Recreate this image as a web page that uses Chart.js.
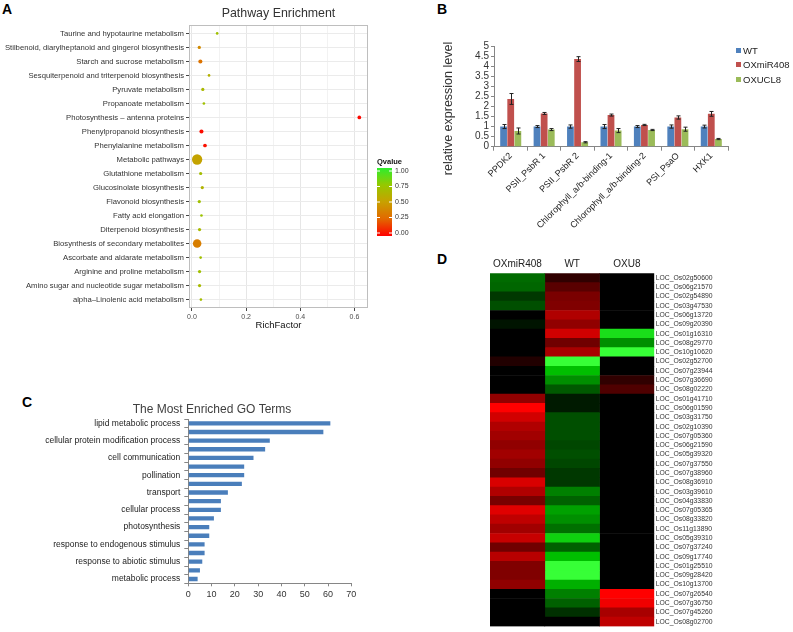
<!DOCTYPE html>
<html><head><meta charset="utf-8">
<script src="https://cdn.jsdelivr.net/npm/chart.js@4.4.1/dist/chart.umd.min.js"></script>
<style>
body{margin:0;background:#fff;width:793px;height:632px;position:relative;overflow:hidden;font-family:"Liberation Sans",Arial,sans-serif;}
canvas{position:absolute;}
.lbl{position:absolute;font:bold 14px "Liberation Sans",Arial,sans-serif;line-height:14px;color:#000;}
#legB{position:absolute;left:736px;top:43.5px;}
#legB .li{height:14.5px;line-height:13px;font-size:9.5px;color:#222;white-space:nowrap;}
#legB .li span{display:inline-block;width:5px;height:5px;margin-right:2px;vertical-align:1px;}
</style></head><body>
<div class="lbl" style="left:2px;top:1.5px">A</div>
<div class="lbl" style="left:437px;top:1.5px">B</div>
<div class="lbl" style="left:22px;top:395px">C</div>
<div class="lbl" style="left:437px;top:252px">D</div>
<canvas id="cA" width="420" height="340" style="left:0;top:0"></canvas>
<canvas id="cB" width="353" height="250" style="left:440px;top:0"></canvas>
<div id="legB"></div>
<canvas id="cC" width="424" height="242" style="left:0;top:390px"></canvas>
<canvas id="cD" width="363" height="377" style="left:430px;top:255px"></canvas>
<script>
// ---------- Panel A data ----------
const pathways = ['Taurine and hypotaurine metabolism','Stilbenoid, diarylheptanoid and gingerol biosynthesis','Starch and sucrose metabolism','Sesquiterpenoid and triterpenoid biosynthesis','Pyruvate metabolism','Propanoate metabolism','Photosynthesis \u2013 antenna proteins','Phenylpropanoid biosynthesis','Phenylalanine metabolism','Metabolic pathways','Glutathione metabolism','Glucosinolate biosynthesis','Flavonoid biosynthesis','Fatty acid elongation','Diterpenoid biosynthesis','Biosynthesis of secondary metabolites','Ascorbate and aldarate metabolism','Arginine and proline metabolism','Amino sugar and nucleotide sugar metabolism','alpha\u2013Linolenic acid metabolism'];
const richFactor = [0.093,0.027,0.031,0.063,0.040,0.044,0.618,0.035,0.048,0.019,0.032,0.038,0.027,0.035,0.028,0.019,0.032,0.028,0.028,0.033];
const qValue = [0.70,0.40,0.30,0.60,0.65,0.70,0.02,0.03,0.04,0.52,0.68,0.62,0.70,0.72,0.66,0.35,0.70,0.70,0.66,0.68];
const geneCount = [1,2,4,1,2,1,3,4,3,40,2,2,2,1,2,26,1,2,2,1];
const qTicks = [1.00,0.75,0.50,0.25,0.00];
const richTicks = [0,0.2,0.4,0.6];

// ---------- Panel B data ----------
const genesB = ['PPDK2','PSII_PsbR 1','PSII_PsbR 2','Chlorophyll_a/b-binding-1','Chlorophyll_a/b-binding-2','PSI_PsaO','HXK1'];
const wtExpr  = [1,1,1,1,1,1,1];
const wtErr   = [0.10,0.05,0.08,0.10,0.05,0.08,0.07];
const oxExpr  = [2.37,1.65,4.35,1.57,1.08,1.45,1.63];
const oxErr   = [0.27,0.05,0.12,0.05,0.03,0.08,0.12];
const uclExpr = [0.78,0.85,0.22,0.80,0.83,0.87,0.38];
const uclErr  = [0.15,0.05,0.03,0.10,0.03,0.10,0.03];

// ---------- Panel C data ----------
const goTerms = ['lipid metabolic process','','cellular protein modification process','','cell communication','','pollination','','transport','','cellular process','','photosynthesis','','response to endogenous stimulus','','response to abiotic stimulus','','metabolic process'];
const goCounts = [61,58,35,33,28,24,24,23,17,14,14,11,9,9,7,7,6,5,4];

// ---------- Panel D data ----------
const colsD = ['OXmiR408','WT','OXU8'];
const genesD = ['LOC_Os02g50600','LOC_Os06g21570','LOC_Os02g54890','LOC_Os03g47530','LOC_Os06g13720','LOC_Os09g20390','LOC_Os01g16310','LOC_Os08g29770','LOC_Os10g10620','LOC_Os02g52700','LOC_Os07g23944','LOC_Os07g36690','LOC_Os08g02220','LOC_Os01g41710','LOC_Os06g01590','LOC_Os03g31750','LOC_Os02g10390','LOC_Os07g05360','LOC_Os06g21590','LOC_Os05g39320','LOC_Os07g37550','LOC_Os07g38960','LOC_Os08g36910','LOC_Os03g39610','LOC_Os04g33830','LOC_Os07g05365','LOC_Os08g33820','LOC_Os11g13890','LOC_Os05g39310','LOC_Os07g37240','LOC_Os09g17740','LOC_Os01g25510','LOC_Os09g28420','LOC_Os10g13700','LOC_Os07g26540','LOC_Os07g36750','LOC_Os07g45260','LOC_Os08g02700'];
const oxD = [-0.42,-0.40,-0.22,-0.31,0,-0.08,0,0,0,0.13,0,0,0,0.57,1.0,0.82,0.69,0.63,0.57,0.63,0.57,0.44,0.85,0.69,0.47,0.88,0.75,0.63,0.78,0.44,0.72,0.50,0.50,0.57,0,0,0,0];
const wtD = [0.19,0.35,0.48,0.50,0.69,0.57,0.82,0.44,0.66,-1.0,-0.75,-0.56,-0.35,-0.10,-0.10,-0.31,-0.31,-0.31,-0.28,-0.31,-0.28,-0.22,-0.22,-0.50,-0.38,-0.63,-0.56,-0.44,-0.82,-0.38,-0.75,-1.0,-1.0,-0.69,-0.50,-0.38,-0.19,0];
const u8D = [0,0,0,0,0,0,-0.87,-0.56,-1.0,0,0,0.19,0.31,0,0,0,0,0,0,0,0,0,0,0,0,0,0,0,0,0,0,0,0,0,1.0,0.94,0.66,0.75];

Chart.defaults.font.family = '"Liberation Sans", Arial, sans-serif';
Chart.defaults.animation = false;
Chart.defaults.events = [];
Chart.defaults.plugins.legend.display = false;
Chart.defaults.plugins.tooltip.enabled = false;

// Qvalue colour scale (red -> olive -> green)
const qStops = [[0,[255,0,0]],[0.25,[226,104,0]],[0.5,[200,160,0]],[0.75,[150,200,0]],[1,[45,238,45]]];
function qColor(q){
  for(let i=1;i<qStops.length;i++){
    if(q<=qStops[i][0]){
      const [a,ca]=qStops[i-1],[b,cb]=qStops[i];const t=(q-a)/(b-a);
      return 'rgb('+ca.map((c,k)=>Math.round(c+(cb[k]-c)*t)).join(',')+')';
    }
  }
  return 'rgb('+qStops[qStops.length-1][1].join(',')+')';
}
function heatColor(v){
  if(v>=0) return 'rgb('+Math.round(255*v)+',0,0)';
  const t=-v; const w=Math.round(Math.max(0,(t-0.75)*4)*55);
  return 'rgb('+w+','+Math.round(255*t)+','+w+')';
}

// ---------- Panel A ----------
const panelA = {
  id:'panelA',
  beforeDatasetsDraw(chart){
    const {ctx, chartArea:a} = chart;
    ctx.save(); ctx.strokeStyle='#BEBEBE'; ctx.lineWidth=1;
    ctx.strokeRect(a.left+0.5,a.top+0.5,a.right-a.left-1,a.bottom-a.top-1); ctx.restore();
  },
  afterDraw(chart){
    const {ctx, chartArea:a} = chart;
    ctx.save();
    ctx.fillStyle='#333'; ctx.font='12.4px "Liberation Sans", Arial'; ctx.textAlign='center'; ctx.textBaseline='middle';
    ctx.fillText('Pathway Enrichment',(a.left+a.right)/2,14);
    // colour bar legend
    const x0=377,y0=168,w=15,h=68;
    ctx.textAlign='left'; ctx.fillStyle='#111'; ctx.font='bold 7.5px "Liberation Sans", Arial';
    ctx.fillText('Qvalue',x0,162);
    const g=ctx.createLinearGradient(0,y0+h,0,y0);
    for(let i=0;i<=20;i++){ g.addColorStop(i/20,qColor(i/20)); }
    ctx.fillStyle=g; ctx.fillRect(x0,y0,w,h);
    ctx.font='7px "Liberation Sans", Arial'; ctx.fillStyle='#333';
    qTicks.forEach(q=>{ const y=y0+3+(1-q)*(h-6); ctx.fillText(q.toFixed(2),x0+w+3,y);
      ctx.strokeStyle='#fff'; ctx.beginPath(); ctx.moveTo(x0,y); ctx.lineTo(x0+3,y); ctx.moveTo(x0+w-3,y); ctx.lineTo(x0+w,y); ctx.stroke(); });
    ctx.restore();
  }
};
new Chart(document.getElementById('cA'),{
  type:'bubble',
  data:{datasets:[{
    data: pathways.map((p,i)=>({x:richFactor[i], y:i, r:0.72*Math.sqrt(geneCount[i])+0.6})),
    backgroundColor: qValue.map(qColor), borderWidth:0
  }]},
  options:{responsive:false,
    layout:{padding:{top:25,right:52,left:0,bottom:0}},
    scales:{
      x:{type:'linear',min:-0.011,max:0.65,
        afterFit(s){s.height=32;},
        ticks:{stepSize:0.1,includeBounds:false,autoSkip:false,maxRotation:0,font:{size:7},color:'#4d4d4d',padding:2,
          callback(v){const k=Math.round(v*10);return richTicks.some(t=>Math.round(t*10)===k)?(k/10).toFixed(1):'';}},
        grid:{color(c){const k=Math.round(c.tick.value*10);return k%2===0?'#E6E6E6':'#F2F2F2';},
          tickColor(c){const k=Math.round(c.tick.value*10);return k%2===0?'#444':'rgba(0,0,0,0)';},tickLength:3},
        border:{display:false},
        title:{display:true,text:'RichFactor',font:{size:9.5},color:'#111',padding:{top:0,bottom:8.6}}},
      y:{type:'linear',reverse:true,min:-0.6,max:19.6,
        afterFit(s){s.width=189;},
        afterBuildTicks(s){s.ticks=pathways.map((p,i)=>({value:i}));},
        ticks:{autoSkip:false,font:{size:7.7},color:'#333',padding:2,callback(v){return pathways[v];}},
        grid:{color:'#EBEBEB',tickColor:'#444',tickLength:3},
        border:{display:false}}
    }},
  plugins:[panelA]
});

// ---------- Panel B ----------
const errB = [wtErr, oxErr, uclErr];
const errorBars = {
  id:'errorBars',
  afterDatasetsDraw(chart){
    const {ctx} = chart; const ys = chart.scales.y;
    ctx.save(); ctx.strokeStyle='#222'; ctx.lineWidth=1;
    chart.data.datasets.forEach((ds,i)=>{
      chart.getDatasetMeta(i).data.forEach((el,j)=>{
        const v=ds.data[j], e=errB[i][j];
        const yt=ys.getPixelForValue(v+e), yb=ys.getPixelForValue(v-e), x=Math.round(el.x)+0.5;
        ctx.beginPath(); ctx.moveTo(x,yt); ctx.lineTo(x,yb);
        ctx.moveTo(x-2,yt); ctx.lineTo(x+2,yt); ctx.moveTo(x-2,yb); ctx.lineTo(x+2,yb); ctx.stroke();
      });
    });
    // y-axis title (centred on the plot + category labels as in the original)
    ctx.fillStyle='#333'; ctx.font='12.5px "Liberation Sans", Arial';
    ctx.translate(9,108.5); ctx.rotate(-Math.PI/2); ctx.textAlign='center'; ctx.textBaseline='middle';
    ctx.fillText('relative expression level',0,0);
    ctx.restore();
  }
};
const barOpts = {categoryPercentage:0.64, barPercentage:0.95, borderWidth:0};
const chartB = new Chart(document.getElementById('cB'),{
  type:'bar',
  data:{labels:genesB, datasets:[
    Object.assign({label:'WT', data:wtExpr, backgroundColor:'#4F81BD'},barOpts),
    Object.assign({label:'OXmiR408', data:oxExpr, backgroundColor:'#C0504D'},barOpts),
    Object.assign({label:'OXUCL8', data:uclExpr, backgroundColor:'#9BBB59'},barOpts)
  ]},
  options:{responsive:false,
    layout:{padding:{top:46,right:65,left:0,bottom:0}},
    scales:{
      x:{afterFit(s){s.height=103.3;},
        ticks:{minRotation:45,maxRotation:45,autoSkip:false,font:{size:9},color:'#222',padding:0},
        grid:{offset:true,drawOnChartArea:false,tickLength:4,color:'#868686'},
        border:{color:'#868686'}},
      y:{min:0,max:5,afterFit(s){s.width=54;},
        ticks:{stepSize:0.5,autoSkip:false,font:{size:10},color:'#333',padding:2,callback(v){return String(Math.round(v*10)/10);}},
        grid:{drawOnChartArea:false,tickLength:3,color:'#868686'},
        border:{color:'#868686'}}
    }},
  plugins:[errorBars]
});
const legB = document.getElementById('legB');
chartB.data.datasets.forEach(ds=>{
  const d=document.createElement('div'); d.className='li';
  const sw=document.createElement('span'); sw.style.background=ds.backgroundColor;
  d.appendChild(sw); d.appendChild(document.createTextNode(ds.label)); legB.appendChild(d);
});

// ---------- Panel C ----------
const titleC = {
  id:'titleC',
  afterDraw(chart){
    const {ctx}=chart; ctx.save(); ctx.fillStyle='#404040'; ctx.font='12px "Liberation Sans", Arial';
    ctx.textAlign='center'; ctx.textBaseline='middle'; ctx.fillText('The Most Enriched GO Terms',212,20); ctx.restore();
  }
};
new Chart(document.getElementById('cC'),{
  type:'bar',
  data:{labels:goTerms, datasets:[{data:goCounts, backgroundColor:'#4A7EBB', barPercentage:0.5, categoryPercentage:1, borderWidth:0}]},
  options:{indexAxis:'y',responsive:false,
    layout:{padding:{top:29,right:72.7,left:0,bottom:0}},
    scales:{
      x:{min:0,max:70,afterFit(s){s.height=48.7;},
        ticks:{stepSize:10,font:{size:9},color:'#333',padding:3,maxRotation:0},
        grid:{drawOnChartArea:false,tickLength:3,color:'#868686'},
        border:{color:'#868686'}},
      y:{afterFit(s){s.width=188.3;},
        ticks:{autoSkip:false,font:{size:8.5},color:'#222',padding:4},
        grid:{offset:true,drawOnChartArea:false,tickLength:4,color:'#868686'},
        border:{color:'#868686'}}
    }},
  plugins:[titleC]
});

// ---------- Panel D ----------
const valsD = [oxD, wtD, u8D];
new Chart(document.getElementById('cD'),{
  type:'bar',
  data:{labels:genesD, datasets: colsD.map((c,k)=>({
    label:c, data: genesD.map(()=>[k,k+1]), backgroundColor: valsD[k].map(heatColor),
    grouped:false, barPercentage:1, categoryPercentage:1, borderWidth:0
  }))},
  options:{indexAxis:'y',responsive:false,
    layout:{padding:{top:0,right:0,left:60,bottom:5.3}},
    scales:{
      x:{type:'linear',position:'top',min:0,max:3,
        afterFit(s){s.height=18.3;},
        afterBuildTicks(s){s.ticks=colsD.map((c,k)=>({value:k+0.5}));},
        ticks:{font:{size:10},color:'#222',padding:3,maxRotation:0,autoSkip:false,callback(v){return colsD[Math.floor(v)];}},
        grid:{display:false,drawTicks:false},border:{display:false}},
      y:{position:'right',afterFit(s){s.width=138.7;},
        ticks:{autoSkip:false,font:{size:6.8},color:'#333',padding:1.5},
        grid:{display:false,drawTicks:false},border:{display:false}}
    }}
});
</script>
</body></html>
